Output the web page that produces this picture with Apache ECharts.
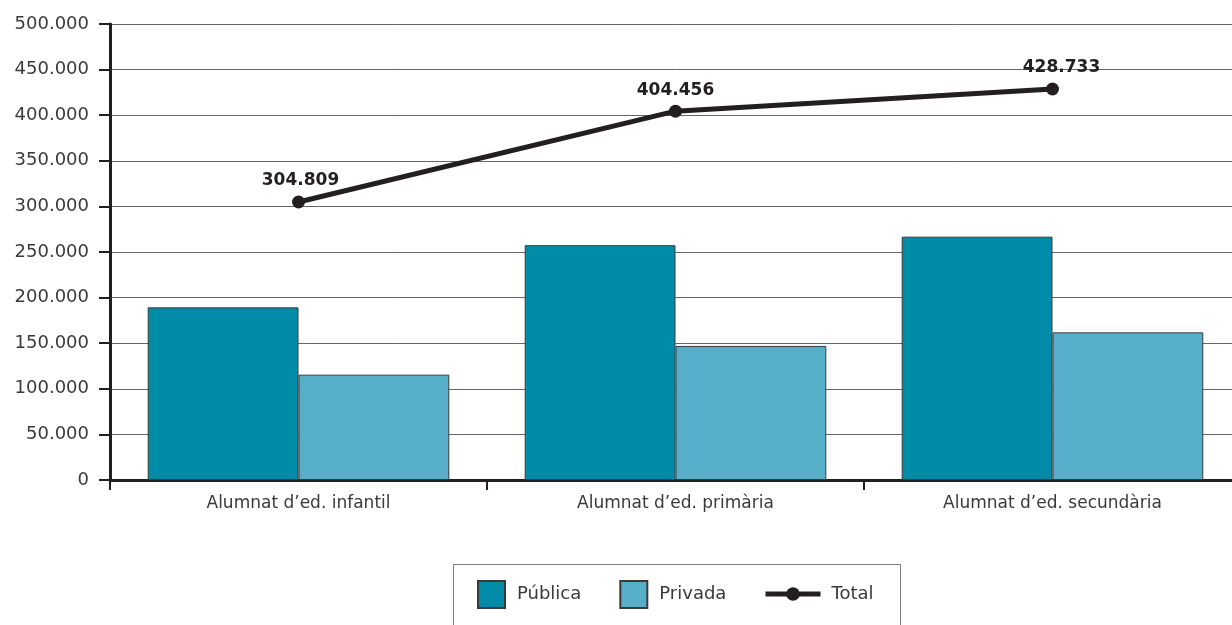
<!DOCTYPE html>
<html>
<head>
<meta charset="utf-8">
<script src="https://cdn.jsdelivr.net/npm/echarts@6/dist/echarts.min.js"></script>
<style>html,body{margin:0;padding:0;background:#fff;overflow:hidden;}#c{width:1241px;height:625px;}</style>
</head>
<body>
<div id="c"></div>
<script>
const categories = ["Alumnat d\u2019ed. infantil", "Alumnat d\u2019ed. prim\u00e0ria", "Alumnat d\u2019ed. secund\u00e0ria"];
const publica = [189300, 257456, 266833];
const privada = [115509, 147000, 161900];
const total = [304809, 404456, 428733];
const seriesNames = ["P\u00fablica", "Privada", "Total"];

function fmt(v) {
  return String(Math.round(v)).replace(/\B(?=(\d{3})+(?!\d))/g, ".");
}

const labelOffsets = [[2, 0], [0, 0], [9, 0]];
const totalData = total.map((v, i) => ({value: v, label: {offset: labelOffsets[i]}}));

const chart = echarts.init(document.getElementById('c'), null, {renderer: 'canvas'});
const font = 'DejaVu Sans';
chart.setOption({
  animation: false,
  backgroundColor: '#ffffff',
  textStyle: {fontFamily: font},
  grid: {left: 110, top: 24, right: 0, bottom: 145, containLabel: false},
  xAxis: {
    type: 'category',
    data: categories,
    boundaryGap: true,
    axisLine: {show: true, lineStyle: {color: '#231f20', width: 3}},
    axisTick: {show: true, length: 10, lineStyle: {color: '#231f20', width: 2}},
    axisLabel: {color: '#3a3a3a', fontSize: 17, fontFamily: font, margin: 15},
    splitLine: {show: false}
  },
  yAxis: {
    type: 'value',
    min: 0,
    max: 500000,
    interval: 50000,
    axisLine: {show: true, lineStyle: {color: '#231f20', width: 3}},
    axisTick: {show: true, length: 11, lineStyle: {color: '#231f20', width: 2}},
    axisLabel: {color: '#3a3a3a', fontSize: 18, fontFamily: font, margin: 21, formatter: fmt},
    splitLine: {show: true, lineStyle: {color: '#666666', width: 1}}
  },
  legend: [
    {
      data: [seriesNames[0], seriesNames[1]],
      left: 472, top: 575,
      itemWidth: 27, itemHeight: 27, itemGap: 38,
      icon: 'rect',
      textStyle: {fontSize: 18, color: '#3a3a3a', fontFamily: font, padding: [0, 0, 0, 7]},
      selectedMode: false
    },
    {
      data: [seriesNames[2]],
      left: 758, top: 580,
      itemWidth: 55, itemHeight: 17,
      lineStyle: {width: 5},
      textStyle: {fontSize: 18, color: '#3a3a3a', fontFamily: font, padding: [0, 0, 0, 6]},
      selectedMode: false
    }
  ],
  graphic: [{
    type: 'rect',
    shape: {x: 453.5, y: 564.5, width: 447, height: 90},
    style: {fill: 'none', stroke: '#7a7a7a', lineWidth: 1},
    silent: true
  }],
  series: [
    {
      name: seriesNames[0], type: 'bar', data: publica,
      barGap: '0%', barCategoryGap: '20%',
      itemStyle: {color: '#008ba8', borderColor: '#3a3a3a', borderWidth: 1}
    },
    {
      name: seriesNames[1], type: 'bar', data: privada,
      barGap: '0%', barCategoryGap: '20%',
      itemStyle: {color: '#56aec8', borderColor: '#3a3a3a', borderWidth: 1}
    },
    {
      name: seriesNames[2], type: 'line', data: totalData, z: 5,
      symbol: 'circle', symbolSize: 13,
      lineStyle: {color: '#231f20', width: 5},
      itemStyle: {color: '#231f20'},
      label: {
        show: true, position: 'top', distance: 6,
        formatter: p => fmt(p.value),
        fontSize: 17, fontWeight: 'bold', color: '#231f20', fontFamily: font
      }
    }
  ]
});
</script>
</body>
</html>
